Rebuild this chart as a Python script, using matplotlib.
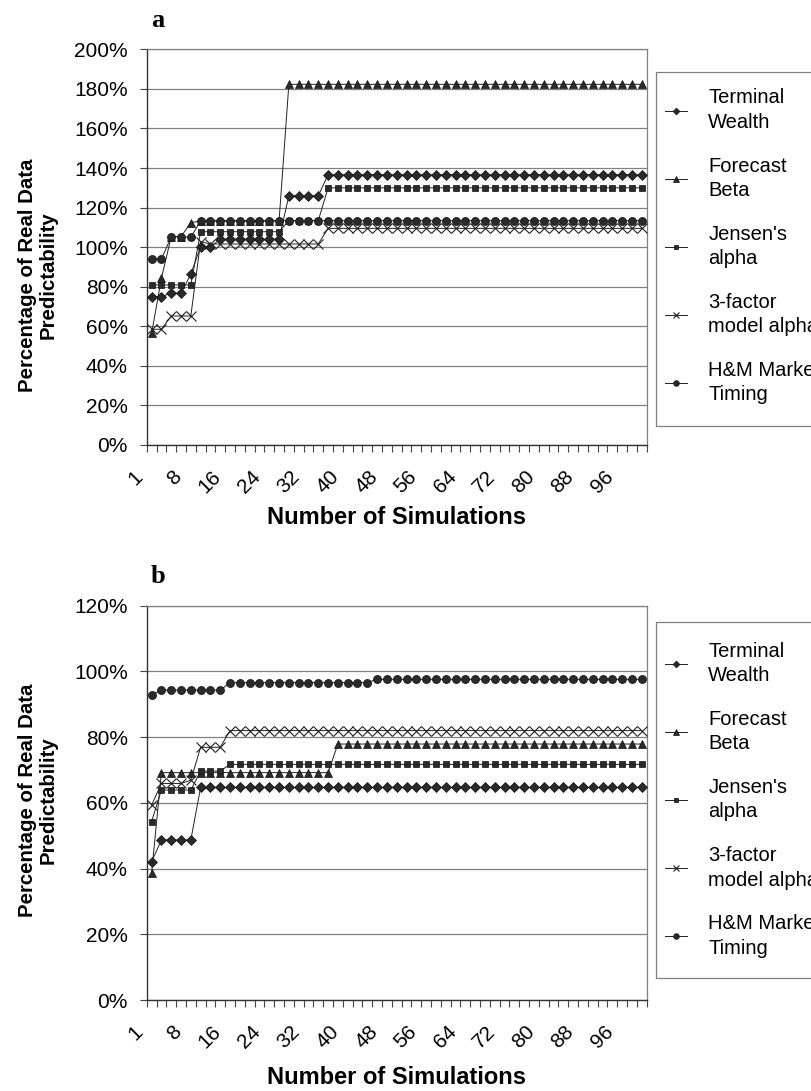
import matplotlib
matplotlib.use('Agg')
import matplotlib.pyplot as plt
from matplotlib.patches import Rectangle
from matplotlib.transforms import ScaledTranslation, blended_transform_factory

plt.rcParams['font.family'] = ['Liberation Sans', 'DejaVu Sans']

sims = [1, 2, 4, 6, 8, 10, 12, 14, 16, 18, 20, 22, 24, 26, 28, 30, 32, 34, 36, 38,
        40, 42, 44, 46, 48, 50, 52, 54, 56, 58, 60, 62, 64, 66, 68, 70, 72, 74, 76, 78,
        80, 82, 84, 86, 88, 90, 92, 94, 96, 98, 100]

# panel a values (percent)
tw_a = [75.0, 75.0, 76.7, 76.7, 86.4, 100.2, 100.2,
        104.0, 104.0, 104.0, 104.0, 104.0, 104.0, 104.0,
        126.0, 126.0, 126.0, 126.0,
        136.6, 136.6, 136.6, 136.6, 136.6, 136.6, 136.6, 136.6, 136.6, 136.6, 136.6,
        136.6, 136.6, 136.6, 136.6, 136.6, 136.6, 136.6, 136.6, 136.6, 136.6, 136.6,
        136.6, 136.6, 136.6, 136.6, 136.6, 136.6, 136.6, 136.6, 136.6, 136.6, 136.6]
fb_a = [56.4, 84.2, 105.3, 105.3, 112.4,
        113.2, 113.2, 113.2, 113.2, 113.2, 113.2, 113.2, 113.2, 113.2,
        182.3, 182.3, 182.3, 182.3, 182.3, 182.3, 182.3, 182.3, 182.3, 182.3, 182.3, 182.3,
        182.3, 182.3, 182.3, 182.3, 182.3, 182.3, 182.3, 182.3, 182.3, 182.3, 182.3, 182.3,
        182.3, 182.3, 182.3, 182.3, 182.3, 182.3, 182.3, 182.3, 182.3, 182.3, 182.3, 182.3,
        182.3]
ja_a = [80.9, 80.9, 80.9, 80.9, 80.9,
        107.8, 107.8, 107.8, 107.8, 107.8, 107.8, 107.8, 107.8, 107.8,
        113.4, 113.4, 113.4, 113.4,
        130.0, 130.0, 130.0, 130.0, 130.0, 130.0, 130.0, 130.0, 130.0, 130.0, 130.0,
        130.0, 130.0, 130.0, 130.0, 130.0, 130.0, 130.0, 130.0, 130.0, 130.0, 130.0,
        130.0, 130.0, 130.0, 130.0, 130.0, 130.0, 130.0, 130.0, 130.0, 130.0, 130.0]
tf_a = [58.5, 58.5, 65.2, 65.2, 65.2, 102.8,
        101.6, 101.6, 101.6, 101.6, 101.6, 101.6, 101.6, 101.6, 101.6, 101.6, 101.6, 101.6,
        109.5, 109.5, 109.5, 109.5, 109.5, 109.5, 109.5, 109.5, 109.5, 109.5, 109.5,
        109.5, 109.5, 109.5, 109.5, 109.5, 109.5, 109.5, 109.5, 109.5, 109.5, 109.5,
        109.5, 109.5, 109.5, 109.5, 109.5, 109.5, 109.5, 109.5, 109.5, 109.5, 109.5]
hm_a = [93.9, 93.9, 105.3, 105.3, 105.0,
        113.4, 113.4, 113.4, 113.4, 113.4, 113.4, 113.4, 113.4, 113.4, 113.4, 113.4, 113.4,
        113.4, 113.4, 113.4, 113.4, 113.4, 113.4, 113.4, 113.4, 113.4, 113.4, 113.4, 113.4,
        113.4, 113.4, 113.4, 113.4, 113.4, 113.4, 113.4, 113.4, 113.4, 113.4, 113.4, 113.4,
        113.4, 113.4, 113.4, 113.4, 113.4, 113.4, 113.4, 113.4, 113.4, 113.4]

# panel b values (percent)
tw_b = [42.1, 48.7, 48.7, 48.7, 48.7,
        64.7, 64.7, 64.7, 64.7, 64.7, 64.7, 64.7, 64.7, 64.7, 64.7, 64.7, 64.7,
        64.7, 64.7, 64.7, 64.7, 64.7, 64.7, 64.7, 64.7, 64.7, 64.7, 64.7, 64.7,
        64.7, 64.7, 64.7, 64.7, 64.7, 64.7, 64.7, 64.7, 64.7, 64.7, 64.7, 64.7,
        64.7, 64.7, 64.7, 64.7, 64.7, 64.7, 64.7, 64.7, 64.7, 64.7]
fb_b = [38.7,
        69.2, 69.2, 69.2, 69.2, 69.2, 69.2, 69.2, 69.2, 69.2,
        69.2, 69.2, 69.2, 69.2, 69.2, 69.2, 69.2, 69.2, 69.2,
        77.9, 77.9, 77.9, 77.9, 77.9, 77.9, 77.9, 77.9, 77.9, 77.9, 77.9,
        77.9, 77.9, 77.9, 77.9, 77.9, 77.9, 77.9, 77.9, 77.9, 77.9, 77.9,
        77.9, 77.9, 77.9, 77.9, 77.9, 77.9, 77.9, 77.9, 77.9, 77.9]
ja_b = [54.3, 63.9, 63.9, 63.9, 63.9, 69.7, 69.7, 69.7,
        71.7, 71.7, 71.7, 71.7, 71.7, 71.7, 71.7, 71.7, 71.7, 71.7, 71.7,
        71.7, 71.7, 71.7, 71.7, 71.7, 71.7, 71.7, 71.7, 71.7, 71.7, 71.7,
        71.7, 71.7, 71.7, 71.7, 71.7, 71.7, 71.7, 71.7, 71.7, 71.7, 71.7,
        71.7, 71.7, 71.7, 71.7, 71.7, 71.7, 71.7, 71.7, 71.7, 71.7]
tf_b = [59.3, 65.9, 65.9, 65.9, 66.9, 76.9, 76.9, 76.9,
        82.0, 82.0, 82.0, 82.0, 82.0, 82.0, 82.0, 82.0, 82.0, 82.0, 82.0,
        82.0, 82.0, 82.0, 82.0, 82.0, 82.0, 82.0, 82.0, 82.0, 82.0, 82.0,
        82.0, 82.0, 82.0, 82.0, 82.0, 82.0, 82.0, 82.0, 82.0, 82.0, 82.0,
        82.0, 82.0, 82.0, 82.0, 82.0, 82.0, 82.0, 82.0, 82.0, 82.0]
hm_b = [92.8, 94.3, 94.3, 94.3, 94.3, 94.3, 94.3, 94.3,
        96.6, 96.6, 96.6, 96.6, 96.6, 96.6, 96.6, 96.6, 96.6, 96.6, 96.6, 96.6, 96.6,
        96.6, 96.6,
        97.6, 97.6, 97.6, 97.6, 97.6, 97.6, 97.6, 97.6, 97.6, 97.6, 97.6, 97.6, 97.6, 97.6,
        97.6, 97.6, 97.6, 97.6, 97.6, 97.6, 97.6, 97.6, 97.6, 97.6, 97.6, 97.6, 97.6, 97.6]

labels = ['Terminal\nWealth', 'Forecast\nBeta', "Jensen's\nalpha",
          '3-factor\nmodel alpha', 'H&M Market\nTiming']
markers = [('D', 4.9), ('^', 6.0), ('s', 4.6), ('x', 7.0), ('o', 5.8)]

W, H = 811, 1091
fig = plt.figure(figsize=(W / 100, H / 100), dpi=100)


def panel(top, bottom, series, ymax, letter, box, first_line, ylab_c, xlab_y):
    ax = fig.add_axes([146.7 / W, 1 - bottom / H, 500 / W, (bottom - top) / H])
    x = list(range(len(sims)))
    for vals, lab, (m, ms) in zip(series, labels, markers):
        if m == 'x':
            ax.plot(x, vals, color='#222222', lw=0.7, marker=m, ms=ms, mew=0.8,
                    label=lab, zorder=3)
        else:
            ax.plot(x, vals, color='#222222', lw=0.7, marker=m, ms=ms,
                    mfc='#2a2a2a', mec='#111111', mew=0.5, label=lab, zorder=3)
    ax.set_xlim(-0.5, len(sims) - 0.5)
    ax.set_ylim(0, ymax)
    ax.set_yticks(range(0, ymax + 1, 20))
    ax.set_yticklabels(['%d%%' % v for v in range(0, ymax + 1, 20)], fontsize=15)
    ax.yaxis.grid(True, color='#808080', lw=0.9)
    ax.set_axisbelow(True)

    # category boundaries get the tick marks, every 4th category gets a label
    ax.set_xticks([])
    ax.set_xticks([i - 0.5 for i in range(len(sims) + 1)], minor=True)
    ax.tick_params(axis='x', which='minor', length=5, width=0.8, color='#444444')
    ax.tick_params(axis='y', length=5, width=0.8, color='#444444', pad=8.5)
    lab_tr = blended_transform_factory(ax.transData, ax.transAxes) + \
        ScaledTranslation(-0.12, -0.287, fig.dpi_scale_trans)
    for i in range(0, len(sims), 4):
        ax.text(i, 0, str(sims[i]), transform=lab_tr, rotation=45, ha='right',
                va='center', rotation_mode='anchor', fontsize=15, clip_on=False)

    for sp in ['left', 'bottom']:
        ax.spines[sp].set_color('#333333')
        ax.spines[sp].set_linewidth(1.0)
    for sp in ['top', 'right']:
        ax.spines[sp].set_color('#808080')
        ax.spines[sp].set_linewidth(0.9)

    fig.text(151 / W, 1 - (top - 29) / H, letter, family='Liberation Serif',
             fontweight='bold', fontsize=19, ha='left', va='center')
    fig.text(38 / W, 1 - ylab_c / H,
             'Percentage of Real Data\nPredictability', rotation=90,
             fontweight='bold', fontsize=14.7, ha='center', va='center',
             multialignment='center', linespacing=1.15)
    fig.text(396.7 / W, 1 - xlab_y / H, 'Number of Simulations',
             fontweight='bold', fontsize=17, ha='center', va='center')

    # legend frame runs off the right edge like the original
    fig.add_artist(Rectangle((655.7 / W, 1 - box[1] / H), 200 / W,
                             (box[1] - box[0]) / H, transform=fig.transFigure,
                             fill=False, ec='#808080', lw=0.9))
    leg = ax.legend(loc='upper left',
                    bbox_to_anchor=(665 / W, 1 - (first_line - 8.3) / H),
                    bbox_transform=fig.transFigure, fontsize=14.5, frameon=False,
                    handlelength=1.1, handletextpad=1.05, borderpad=0,
                    labelspacing=1.22, markerscale=0.7, borderaxespad=0)
    for t in leg.get_texts():
        t.set_linespacing(1.37)
    return ax


panel(49.3, 445, [tw_a, fb_a, ja_a, tf_a, hm_a], 200, 'a', (71.7, 426), 96.7, 275, 518)
panel(605.7, 1000, [tw_b, fb_b, ja_b, tf_b, hm_b], 120, 'b', (622, 978), 650, 800, 1077)

fig.savefig('out.png', dpi=100)
